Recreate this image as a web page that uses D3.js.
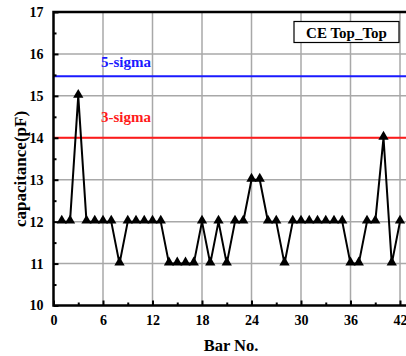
<html>
<head>
    <meta charset="utf-8">
    <title>CE Top_Top</title>
    <style>
        body { margin: 0; background: #fff; }
        text { font-family: "Liberation Serif", "Times New Roman", serif; font-weight: bold; }
    </style>
</head>
<body>
    <script src="https://cdn.jsdelivr.net/npm/d3@7/dist/d3.min.js"></script>
    <script>
        // data
        var barNo = [1, 2, 3, 4, 5, 6, 7, 8, 9, 10, 11, 12, 13, 14, 15, 16, 17, 18, 19, 20, 21,
            22, 23, 24, 25, 26, 27, 28, 29, 30, 31, 32, 33, 34, 35, 36, 37, 38, 39, 40, 41, 42];
        var capacitance = [12, 12, 15, 12, 12, 12, 12, 11, 12, 12, 12, 12, 12, 11, 11, 11, 11, 12, 11, 12, 11,
            12, 12, 13, 13, 12, 12, 11, 12, 12, 12, 12, 12, 12, 12, 11, 11, 12, 12, 14, 11, 12];
        var xTicks = [0, 6, 12, 18, 24, 30, 36, 42];
        var yTicks = [10, 11, 12, 13, 14, 15, 16, 17];
        var sigmaNames = ["5-sigma", "3-sigma"];
        var sigmaValues = [15.47, 14.0];
        var sigmaColors = ["#1a1aff", "#ff1a1a"];

        var width = 406, height = 356;
        var plotLeft = 53.5, plotTop = 12, plotBottom = 305.5;
        var labelOffsets = [9, 15.5]; // gap between each sigma line and its label

        var svg = d3.select("body").append("svg")
            .attr("width", width)
            .attr("height", height);

        var x = d3.scaleLinear().domain([0, 42]).range([plotLeft, 400]);
        var y = d3.scaleLinear().domain([10, 17]).range([plotBottom, plotTop]);
        var plotRight = x(43.5);

        // grid
        svg.append("g").selectAll("line")
            .data(xTicks.slice(1))
            .enter().append("line")
            .attr("x1", function (d) { return x(d); })
            .attr("x2", function (d) { return x(d); })
            .attr("y1", plotTop).attr("y2", plotBottom)
            .attr("stroke", "#a8a8a8").attr("stroke-width", 1.5);
        svg.append("g").selectAll("line")
            .data(yTicks.slice(1, -1))
            .enter().append("line")
            .attr("x1", plotLeft).attr("x2", plotRight)
            .attr("y1", function (d) { return y(d); })
            .attr("y2", function (d) { return y(d); })
            .attr("stroke", "#a8a8a8").attr("stroke-width", 1.5);

        // sigma lines
        sigmaValues.forEach(function (v, i) {
            svg.append("line")
                .attr("x1", plotLeft).attr("x2", plotRight)
                .attr("y1", y(v)).attr("y2", y(v))
                .attr("stroke", sigmaColors[i]).attr("stroke-width", 2);
            svg.append("text")
                .attr("x", 101)
                .attr("y", y(v) - labelOffsets[i])
                .attr("font-size", 15)
                .attr("fill", sigmaColors[i])
                .text(sigmaNames[i]);
        });

        // axes (ticks inward)
        var xAxis = d3.axisBottom(x).tickValues(xTicks).tickSize(-5).tickPadding(10).tickFormat(d3.format("d"));
        var xMinor = d3.axisBottom(x).tickValues(d3.range(3, 43, 6)).tickSize(-3).tickFormat("");
        var yAxis = d3.axisLeft(y).tickValues(yTicks).tickSize(-5).tickPadding(10).tickFormat(d3.format("d"));
        var yMinor = d3.axisLeft(y).tickValues(d3.range(10.5, 17, 1)).tickSize(-3).tickFormat("");

        [xAxis, xMinor].forEach(function (a) {
            var g = svg.append("g").attr("transform", "translate(0," + plotBottom + ")").call(a);
            g.select(".domain").remove();
            g.selectAll("line").attr("stroke", "#000").attr("stroke-width", 2);
            g.selectAll("text").attr("font-size", 14).attr("fill", "#000")
                .style("font-family", "Liberation Serif").style("font-weight", "bold");
        });
        [yAxis, yMinor].forEach(function (a) {
            var g = svg.append("g").attr("transform", "translate(" + plotLeft + ",0)").call(a);
            g.select(".domain").remove();
            g.selectAll("line").attr("stroke", "#000").attr("stroke-width", 2);
            g.selectAll("text").attr("font-size", 14).attr("fill", "#000")
                .style("font-family", "Liberation Serif").style("font-weight", "bold");
        });

        // frame
        svg.append("path")
            .attr("d", "M" + plotRight + "," + plotTop + "H" + plotLeft + "V" + plotBottom + "H" + plotRight)
            .attr("fill", "none").attr("stroke", "#000").attr("stroke-width", 2.5);

        // data line
        var pts = barNo.map(function (b, i) { return [b, capacitance[i]]; });
        svg.append("path")
            .datum(pts)
            .attr("d", d3.line().x(function (d) { return x(d[0]); }).y(function (d) { return y(d[1]); }))
            .attr("fill", "none").attr("stroke", "#000").attr("stroke-width", 2);
        svg.append("g").selectAll("path")
            .data(pts)
            .enter().append("path")
            .attr("transform", function (d) { return "translate(" + x(d[0]) + "," + (y(d[1]) - 1) + ")"; })
            .attr("d", d3.symbol().type(d3.symbolTriangle).size(46))
            .attr("fill", "#000");

        // legend box
        svg.append("rect")
            .attr("x", 294).attr("y", 21.5).attr("width", 105).attr("height", 21)
            .attr("fill", "#fff").attr("stroke", "#000").attr("stroke-width", 1.2);
        svg.append("text")
            .attr("x", 346.5).attr("y", 37.5)
            .attr("text-anchor", "middle").attr("font-size", 15)
            .text("CE Top_Top");

        // axis titles
        svg.append("text")
            .attr("x", 231).attr("y", 351)
            .attr("text-anchor", "middle").attr("font-size", 16.5)
            .text("Bar No.");
        svg.append("text")
            .attr("transform", "translate(26,169) rotate(-90)")
            .attr("text-anchor", "middle").attr("font-size", 17)
            .text("capacitance(pF)");
    </script>
</body>
</html>
